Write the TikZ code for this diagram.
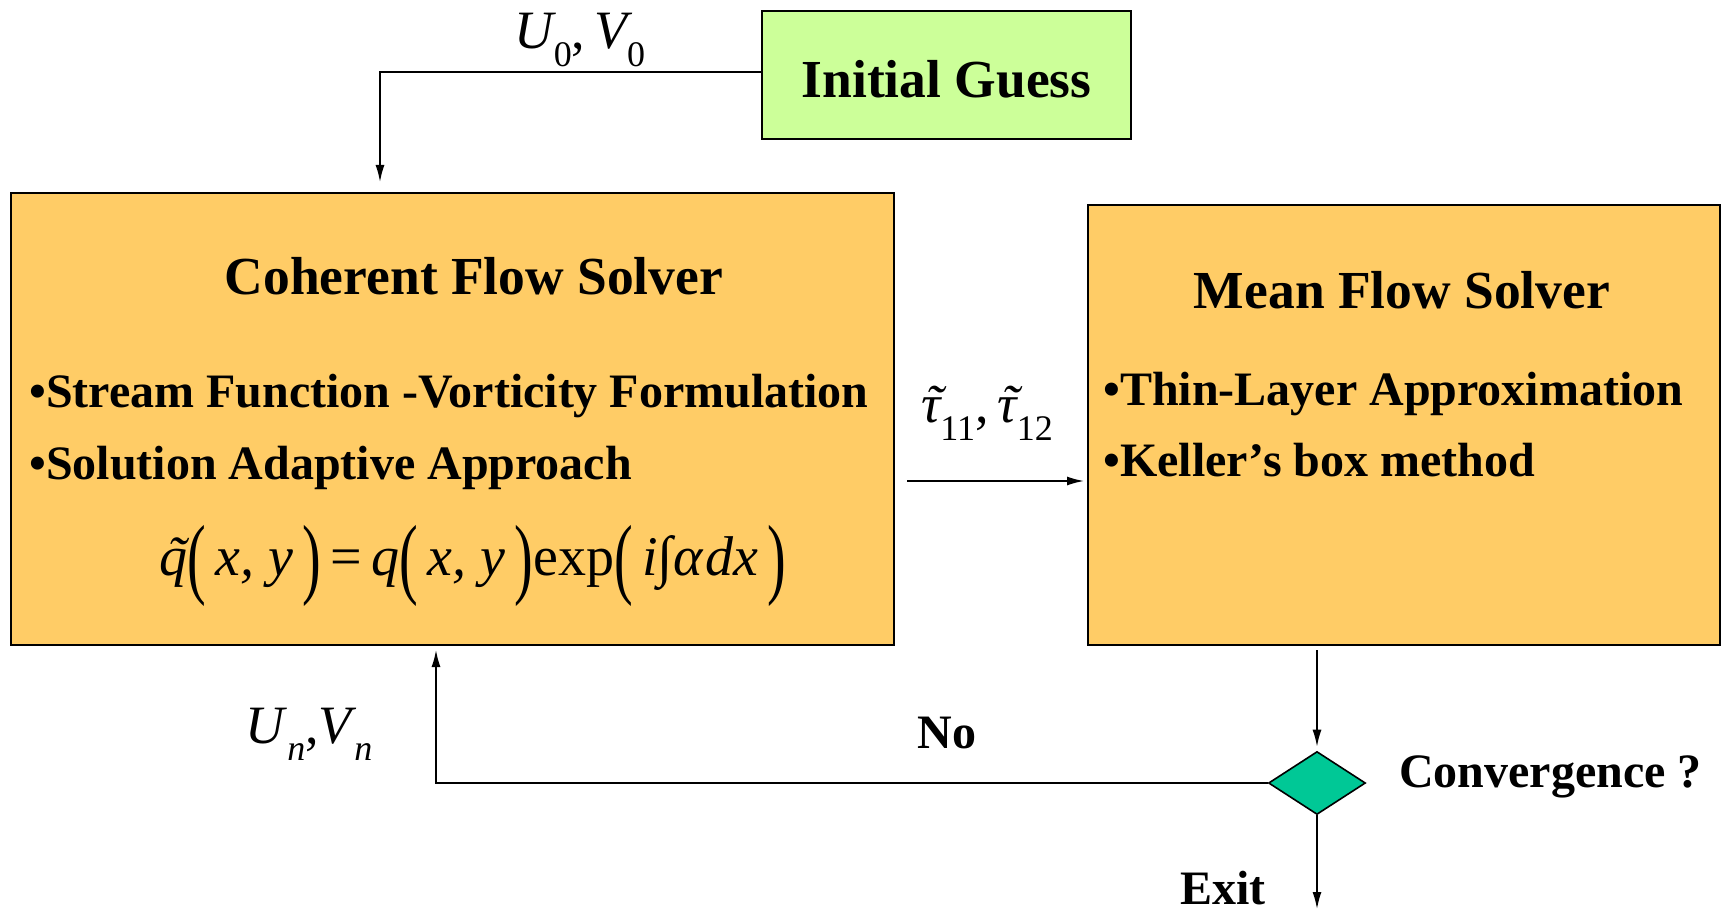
\documentclass[tikz,border=0pt]{standalone}
\usepackage{fontspec}
\setmainfont{Liberation Serif}
\usetikzlibrary{arrows.meta,shapes.geometric}
\definecolor{guessgreen}{HTML}{CCFF99}
\definecolor{solverorange}{HTML}{FFCC66}
\definecolor{diamondgreen}{HTML}{00C896}
\newcommand\tl[1]{\ooalign{#1\cr\hidewidth\kern0.12em\char"02DC\hidewidth\cr}}
\newcommand\sub[1]{\raisebox{-0.32em}{\upshape\fontsize{36}{40}\selectfont #1}}
\newcommand\bp[1]{\raisebox{-0.22em}{\upshape\scalebox{1}[1.6]{#1}}}
\tikzset{
  boxnode/.style={draw=black, line width=2pt, inner sep=0pt},
  titletext/.style={font=\bfseries\fontsize{53.5}{60}\selectfont, inner sep=0pt},
  bullettext/.style={font=\bfseries\fontsize{48}{56}\selectfont, inner sep=0pt, anchor=west},
  labeltext/.style={font=\itshape\fontsize{54}{60}\selectfont, inner sep=0pt},
  arr/.style={line width=1.6pt, -{Latex[length=17pt,width=9pt]}},
}
\begin{document}
\begin{tikzpicture}[x=1pt,y=-1pt]
\useasboundingbox[fill=white] (0,0) rectangle (1727,915);
% boxes
\node[boxnode, fill=guessgreen, minimum width=369pt, minimum height=128pt] (init) at (946.5,75) {};
\node[titletext] (initT) at (946.5,79) {Initial Guess};
\node[boxnode, fill=solverorange, minimum width=883pt, minimum height=452pt] (coh) at (452.5,419) {};
\node[boxnode, fill=solverorange, minimum width=632pt, minimum height=440pt] (mean) at (1404,425) {};
% coherent text
\node[titletext] (cohT) at (474,276) {Coherent Flow Solver};
\node[bullettext] (cohB1) at (29,396) {•Stream Function -Vorticity Formulation};
\node[bullettext] (cohB2) at (29,468) {•Solution Adaptive Approach};
\node[labeltext, font=\itshape\fontsize{56}{64}\selectfont] (cohEq) at (473,566) {\tl{q}\bp{(}\,x, y\,\bp{)}\,\upshape=\,\itshape q\bp{(}\,x, y\,\bp{)}\upshape exp\bp{(}\,\itshape i\upshape∫\itshape α\kern0.05em dx\,\bp{)}};
% mean text
\node[titletext] (meanT) at (1402,290) {Mean Flow Solver};
\node[bullettext] (meanB1) at (1103,394) {•Thin-Layer Approximation};
\node[bullettext] (meanB2) at (1103,460) {•Keller’s box method};
% diamond
\node[draw=black, line width=1.6pt, fill=diamondgreen, diamond, aspect=1.54, minimum width=97pt, minimum height=63pt, inner sep=0pt] (dia) at (1317,783) {};
% labels
\node[labeltext] (lab0) at (580,40) {U\sub{0}\upshape,\,\itshape V\sub{0}};
\node[labeltext] (labtau) at (987,419) {\tl{τ}\sub{11}\upshape,\,\itshape\tl{τ}\sub{12}};
\node[labeltext] (labn) at (309,734) {U\kern0.05em\sub{\itshape n}\upshape,\itshape V\kern0.05em\sub{\itshape n}};
\node[bullettext, anchor=center] (labno) at (947,733) {No};
\node[bullettext] (labconv) at (1399,777) {Convergence ?};
\node[bullettext, anchor=center] (labexit) at (1223,888) {Exit};
% connectors
\coordinate (c1) at (380,182);
\coordinate (c2) at (436,650);
\coordinate (c3) at (1317,909);
\coordinate (t1) at (907,481);
\coordinate (m1) at (1317,650);
\draw[arr] (init.west |- 0,72) -| (c1);
\draw[arr, shorten >=3pt] (t1) -- (t1 -| mean.west);
\draw[arr, shorten >=4pt] (m1) -- (dia.north);
\draw[arr] (dia.west) -| (c2);
\draw[arr] (dia.south) -- (c3);
\end{tikzpicture}
\end{document}
